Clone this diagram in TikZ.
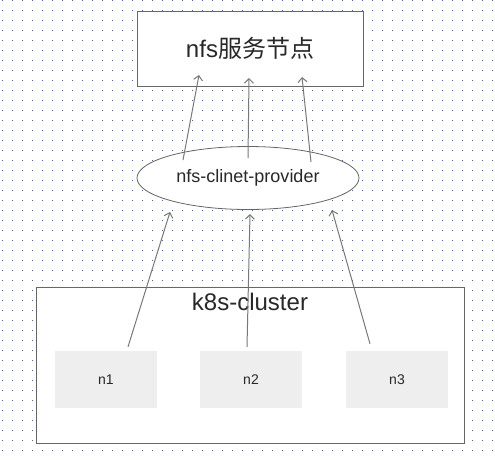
\documentclass[tikz,border=0pt]{standalone}
\usepackage{fontspec}
\setmainfont{Liberation Sans}
\newfontfamily\cjk{Noto Sans CJK SC}
\usetikzlibrary{shapes.geometric,arrows.meta}

\definecolor{dotblue}{RGB}{45,95,255}
\definecolor{edgegray}{RGB}{102,102,102}
\definecolor{linegray}{RGB}{120,120,120}
\definecolor{cellgray}{RGB}{238,238,238}
\definecolor{textgray}{RGB}{40,40,40}

\tikzset{
  box/.style={draw=edgegray, fill=white, line width=1pt, inner sep=0pt},
  oval/.style={ellipse, draw=edgegray, fill=white, line width=0.8pt, inner sep=0pt,
    minimum width=222, minimum height=63},
  cell/.style={fill=cellgray, inner sep=0pt, minimum width=102, minimum height=57,
    text=textgray, font=\fontsize{14}{16}\selectfont},
  link/.style={draw=linegray, line width=1pt, -{Straight Barb[length=4.5pt,width=9pt]}}
}

\begin{document}
\begin{tikzpicture}[x=1pt, y=-1pt]
  \useasboundingbox (0,0) rectangle (495,459);
  \fill[white] (0,0) rectangle (495,459);
  % grid
  \foreach \x in {2,12,...,492}
    \foreach \y in {0,10,...,450}
      \fill[dotblue] (\x,\y) rectangle ++(1,1);

  \node[box, minimum width=226, minimum height=75, text=textgray,
    font=\fontsize{24}{28}\selectfont] (nfs) at (250,48.5) {nfs{\cjk 服务节点}};
  \node[oval, text=textgray, font=\fontsize{18}{20}\selectfont] (prov) at (248,178) {nfs-clinet-provider};

  \node[box, minimum width=428, minimum height=156] (cluster) at (250,365) {};
  \node[text=textgray, font=\fontsize{24}{28}\selectfont] (ctitle) at (250,302) {k8s-cluster};
  \node[cell] (n1) at (106,379.5) {n1};
  \node[cell] (n2) at (251,379.5) {n2};
  \node[cell] (n3) at (397,379.5) {n3};

  \draw[link] ([shift={(22,-4)}]n1.north) -- ([shift={(-78,34)}]prov.center);
  \draw[link] ([shift={(-4,-4)}]n2.north) -- ([shift={(2,36)}]prov.center);
  \draw[link] ([shift={(-27,-7)}]n3.north) -- ([shift={(84,32)}]prov.center);

  \draw[link] ([shift={(-65,-18)}]prov.center) -- ([shift={(-51,26.5)}]nfs.center);
  \draw[link] ([shift={(0,-20)}]prov.center) -- ([shift={(-1,29.5)}]nfs.center);
  \draw[link] ([shift={(63,-16)}]prov.center) -- ([shift={(52,28.5)}]nfs.center);
\end{tikzpicture}
\end{document}
